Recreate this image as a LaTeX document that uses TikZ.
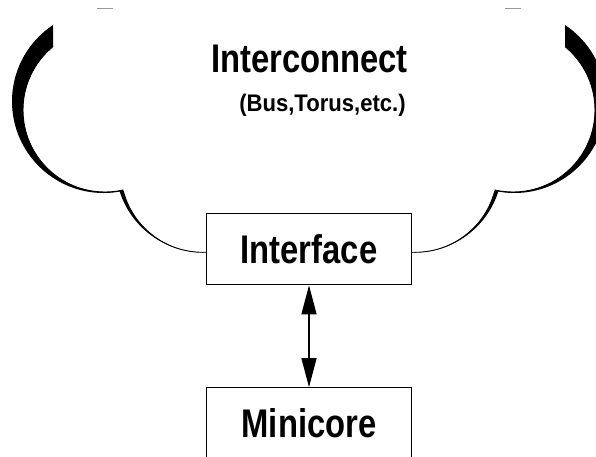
\documentclass[tikz,border=0pt]{standalone}
\usepackage{fontspec}
\setmainfont{Liberation Sans}
\usetikzlibrary{arrows.meta}
% horizontally condensed bold sans text
\newcommand\sqtext[3]{\scalebox{#1}[1]{\fontsize{#2}{#2}\selectfont\bfseries #3}}
\begin{document}
\begin{tikzpicture}[x=1pt,y=-1pt,
  box/.style={draw, line width=1.2pt, fill=white, inner sep=0pt,
              minimum width=204.6pt, minimum height=71.4pt},
  thin/.style={line width=0.9pt},
  bigtri/.tip={Triangle[length=29pt,width=15pt]}]
\useasboundingbox (0,0) rectangle (596,456);
\clip (0,0) rectangle (596,456);

% cloud lobes, left half and its mirror image about x = 309
\foreach \s in {1,-1}{
  \begin{scope}[xshift=309pt, xscale=\s, xshift=-309pt]
    % large side lobe: crescent shading plus inner outline
    \begin{scope}
      \clip (-20,-20) -- (53,-20) -- (53,110) -- (123.3,110)
            -- (123.3,200) -- (-20,200) -- cycle;
      \fill[even odd rule] (103.6,101.4) circle (91.6pt) (105,110) circle (82pt);
      \draw[thin] (105,110) circle (82pt);
    \end{scope}
    % lower lobe joining the interface box
    \begin{scope}
      \clip (110,191) rectangle (207,262);
      \fill[even odd rule] (202.8,165.1) circle (87.2pt) (202.8,170.1) circle (82.2pt);
      \draw[thin] (202.8,170.1) circle (82.2pt);
    \end{scope}
    % top edge of the outer lobe
    \draw[black!40, line width=0.7pt] (97,8.5) -- (113,8.5);
  \end{scope}
}

% labels of the interconnect cloud
\node[anchor=base, inner sep=0pt] (title) at (309.5,72)
  {\sqtext{0.82}{40pt}{Interconnect}};
\node[anchor=base, inner sep=0pt] (sub) at (322.5,111)
  {\sqtext{0.92}{24pt}{(Bus,Torus,etc.)}};

% boxes
\node[box] (iface) at (309,249) {\sqtext{0.82}{40pt}{Interface}};
\node[box] (mini) at (309,423.5) {\sqtext{0.82}{40pt}{Minicore}};

% bidirectional link
\draw[line width=1.3pt, bigtri-bigtri] (iface.south) -- (mini.north);
\end{tikzpicture}
\end{document}
